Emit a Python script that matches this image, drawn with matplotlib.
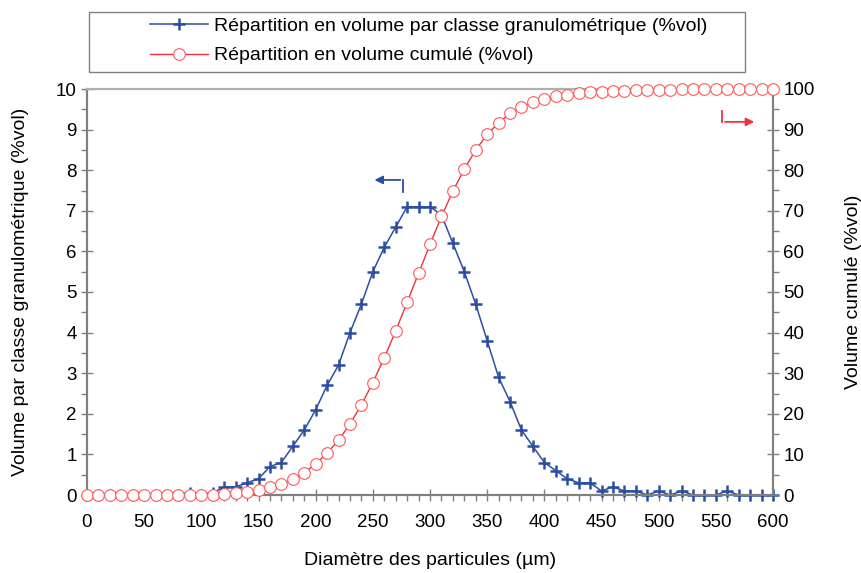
import numpy as np
import matplotlib.pyplot as plt
from matplotlib.ticker import MultipleLocator
from matplotlib.patches import Rectangle

plt.rcParams['font.family'] = ['Liberation Sans', 'DejaVu Sans']

# Diamètre des particules (µm)
diametre = list(range(0, 610, 10))

# Répartition en volume par classe granulométrique (%vol)
vol_classe = [0, 0, 0, 0, 0, 0, 0, 0, 0, 0.05,
              0, 0.05, 0.2, 0.2, 0.3, 0.4, 0.7, 0.8, 1.2, 1.6,
              2.1, 2.7, 3.2, 4.0, 4.7, 5.5, 6.1, 6.6, 7.1, 7.1,
              7.1, 6.9, 6.2, 5.5, 4.7, 3.8, 2.9, 2.3, 1.6, 1.2,
              0.8, 0.6, 0.4, 0.3, 0.3, 0.1, 0.2, 0.1, 0.1, 0,
              0.1, 0, 0.1, 0, 0, 0, 0.1, 0, 0, 0, 0]

# Répartition en volume cumulé (%vol)
vol_cumule = [0, 0, 0, 0, 0, 0, 0, 0, 0, 0.05,
              0.05, 0.1, 0.3, 0.5, 0.8, 1.2, 1.9, 2.7, 3.9, 5.5,
              7.6, 10.3, 13.5, 17.5, 22.2, 27.7, 33.8, 40.4, 47.5, 54.6,
              61.7, 68.6, 74.8, 80.3, 85.0, 88.8, 91.7, 94.0, 95.6, 96.8,
              97.6, 98.2, 98.6, 98.9, 99.2, 99.3, 99.5, 99.6, 99.7, 99.7,
              99.8, 99.8, 99.9, 99.9, 99.9, 99.9, 100, 100, 100, 100, 100]

bleu = '#2B4DA3'
rouge = '#F0323C'
gris = '#808080'
fs = 14

fig = plt.figure(figsize=(8.61, 5.73), dpi=100)
ax = fig.add_axes([87 / 861, 1 - 495 / 573, 686 / 861, 406 / 573])
ax2 = ax.twinx()

l1, = ax.plot(diametre, vol_classe, color=bleu, lw=1.1, marker='+', ms=9, mew=1.8,
              label='Répartition en volume par classe granulométrique (%vol)', zorder=2,
              clip_on=False)
l2, = ax2.plot(diametre, vol_cumule, color=rouge, lw=1.0, marker='o', ms=8.4, mew=0.8,
               mfc='white', mec='#FF5A5A', label='Répartition en volume cumulé (%vol)', zorder=3,
               clip_on=False)
ax2.set_zorder(ax.get_zorder() + 1)
ax2.patch.set_visible(False)

ax.set_xlim(0, 600)
ax.set_ylim(0, 10)
ax2.set_ylim(0, 100)

ax.xaxis.set_major_locator(MultipleLocator(50))
ax.xaxis.set_minor_locator(MultipleLocator(10))
ax.yaxis.set_major_locator(MultipleLocator(1))
ax.yaxis.set_minor_locator(MultipleLocator(0.5))
ax2.yaxis.set_major_locator(MultipleLocator(10))
ax2.yaxis.set_minor_locator(MultipleLocator(5))

for a in (ax, ax2):
    for s in a.spines.values():
        s.set_color(gris)
        s.set_linewidth(1.5)
    a.spines['top'].set_color('#b0b0b0')
    a.tick_params(which='major', direction='inout', length=8, width=1, color=gris, labelsize=13.5)
    a.tick_params(which='minor', direction='out', length=4, width=1, color=gris)
ax.tick_params(axis='x', pad=10)

ax.set_xlabel('Diamètre des particules (µm)', fontsize=fs, labelpad=15)
ax.set_ylabel('Volume par classe granulométrique (%vol)', fontsize=fs, labelpad=19)
ax2.set_ylabel('Volume cumulé (%vol)', fontsize=fs, labelpad=22)

# flèches indiquant l'axe de chaque série
ax.annotate('', xy=(249, 7.76), xytext=(276.5, 7.76),
            arrowprops=dict(arrowstyle='-|>', color=bleu, lw=1.3, mutation_scale=12))
ax.plot([276.5, 276.5], [7.46, 7.76], color=bleu, lw=1.3)
ax2.annotate('', xy=(586, 91.9), xytext=(555.6, 91.9),
             arrowprops=dict(arrowstyle='-|>', color=rouge, lw=1.3, mutation_scale=12))
ax2.plot([555.6, 555.6], [91.9, 94.6], color=rouge, lw=1.3)

# cadre de la légende
fig.patches.append(Rectangle((89 / 861, 1 - 72 / 573), 656 / 861, 60 / 573,
                             transform=fig.transFigure, fill=False, ec=gris, lw=1.0))
leg = fig.legend(handles=[l1, l2], loc='center left', bbox_to_anchor=(150 / 861, 1 - 41 / 573),
                 fontsize=fs, frameon=False, handlelength=3.0,
                 borderpad=0, labelspacing=0.6, handletextpad=0.3, borderaxespad=0)

fig.savefig('out.png', dpi=100)
